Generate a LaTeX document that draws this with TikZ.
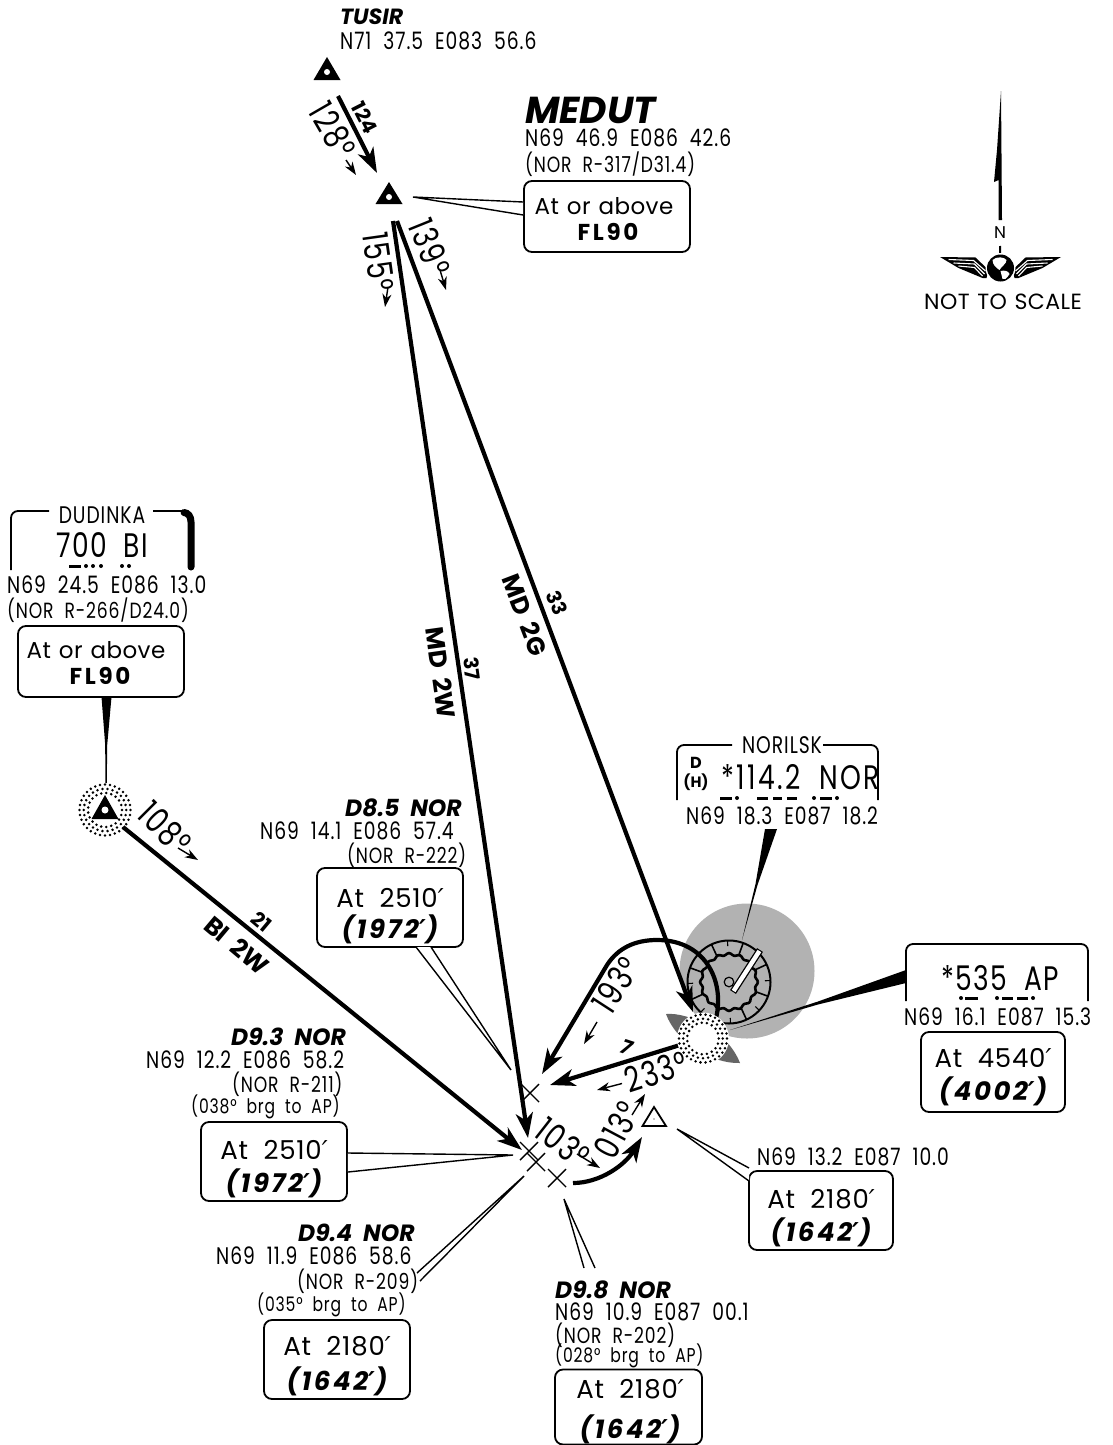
\documentclass[tikz,border=0pt]{standalone}
\usepackage{fontspec}
\usetikzlibrary{arrows.meta}
\setmainfont{Poppins}
\newfontfamily\nrw[FakeStretch=0.78,LetterSpace=4,WordSpace=2]{Poppins}
\newfontfamily\nrwb[FakeStretch=0.78,LetterSpace=7,WordSpace=2]{Poppins}
\newfontfamily\altf[LetterSpace=2,WordSpace=1.2]{Poppins}
\newfontfamily\altn[LetterSpace=3,WordSpace=2]{Poppins}
\newfontfamily\bif[LetterSpace=10,WordSpace=2]{Poppins}
\newfontfamily\flf[LetterSpace=12]{Poppins}
\newfontfamily\namef[WordSpace=2]{Poppins}
\newfontfamily\prf{DejaVu Sans}
\newcommand{\prm}{{\prf\itshape ′}}
\newcommand{\mdsh}[3]{\draw[line width=3] (#1,#3)--(#2,#3);}
\newcommand{\mdt}[2]{\fill (#1,#2) circle (2);}
\newcommand{\dotring}[3]{\foreach \i in {1,...,#3}{\fill (#1)++(\i*360/#3:#2) circle (1.4);}}
\tikzset{
  coordtx/.style={font=\fontsize{24}{24}\selectfont\nrw,anchor=west,inner sep=0pt},
  smalltx/.style={font=\fontsize{22}{22}\selectfont\nrw,anchor=west,inner sep=0pt},
  brgtx/.style={font=\fontsize{20}{20}\selectfont\nrw,anchor=west,inner sep=0pt},
  nametx/.style={font=\fontsize{23.5}{24}\selectfont\namef\bfseries\itshape,anchor=west,inner sep=0pt},
  bigtx/.style={font=\fontsize{35}{35}\selectfont\nrw,inner sep=0pt},
  freqtx/.style={font=\fontsize{34}{34}\selectfont\nrw,inner sep=0pt},
  stationtx/.style={font=\fontsize{24}{24}\selectfont\nrw,inner sep=0pt},
  rtelbl/.style={font=\fontsize{20}{20}\selectfont\bfseries,inner sep=0pt},
  rtename/.style={font=\fontsize{25}{25}\selectfont\namef\bfseries,inner sep=0pt},
  altbox/.style={draw,line width=1.8,rounded corners=8,fill=white,inner sep=0pt},
  alttx/.style={font=\fontsize{23}{23}\selectfont\altf,inner sep=0pt},
  altnum/.style={font=\fontsize{26}{26}\selectfont\altn,inner sep=0pt},
  altbi/.style={font=\fontsize{26}{26}\selectfont\bif\bfseries\itshape,inner sep=0pt},
  altfl/.style={font=\fontsize{23}{23}\selectfont\flf\bfseries,inner sep=0pt},
  route/.style={line width=4.2,-{Stealth[length=25,width=17,inset=7]}},
  hdg/.style={line width=1.4,-{Stealth[length=13,width=9,inset=4]}},
  leader/.style={line width=1.4,fill=white},
  wedge/.style={fill=black},
  xmark/.style={line width=1.4},
  chanbox/.style={line width=1.8,rounded corners=7},
}
\begin{document}
\begin{tikzpicture}[x=1pt,y=-1pt]
\useasboundingbox (0,0) rectangle (1112,1445);
\fill[white] (0,0) rectangle (1112,1445);

% named points
\coordinate (tus) at (327,72);
\coordinate (med) at (389,197);
\coordinate (dud) at (105,810);
\coordinate (nor) at (729,982);
\coordinate (ap) at (703,1038.5);
\coordinate (x1) at (530,1093);
\coordinate (x2) at (529,1151);
\coordinate (x3) at (536,1162);
\coordinate (x4) at (557,1178);
\coordinate (tri) at (654,1119);

% VOR rose
\fill[black!30] (747,971) circle (67.5);
\fill[black!60] (666,1014) .. controls (690,1012) and (728,1032) .. (740,1063) .. controls (712,1064) and (676,1042) .. (666,1014) -- cycle;
\draw[line width=2] (nor) circle (41.5);
\foreach \a in {-70,-115,-160,155,110,65,20,-25}{\draw[line width=1.6] (nor)++(\a:28)--++(\a:13.5);}
\foreach \a in {-92,-137,-182,133,88,43,-2,-47}{\draw[line width=1.1] (nor)++(\a:36)--++(\a:5.5);}
\draw[line width=2.6,shift={(nor)}] plot[samples=97,domain=0:360] ({(27.8+1.1*cos(16*\x))*cos(\x)},{(27.8+1.1*cos(16*\x))*sin(\x)});
\draw[line width=1.2] (nor) circle (4.8);
\draw[line width=7] (733,992)--(760,950);
\draw[white,line width=4.4] (733.6,991)--(759.4,951);

% Wedge leaders
\coordinate (norT) at (742,940);
\fill[wedge] (765,829)--(755.5,884)--(norT)--(757.5,885)--(777,829)--cycle;
\coordinate (apT) at (730,1030);
\fill[wedge] (906,970)--(818,1001.5)--(apT)--(818,1004.5)--(906,983)--cycle;
\coordinate (dudT) at (106,783);
\fill[wedge] (101.5,697)--(105.2,745)--(105.4,783)--(dudT)--(106.8,783)--(107.2,745)--(111.5,697)--cycle;

% Routes
\draw[route] (338,96)--(377,173);
\draw[route] (393,221)--(528,1138);
\draw[route] (397,221)--(693,1012);
\draw[route] (123,827)--(522,1150);
\draw[route] (680,1045)--(550,1085);
\draw[route] (573,1183) .. controls (600,1183) and (625,1165) .. (642,1137);
\draw[route] (715,1022) .. controls (726,985) and (708,940) .. (657,940) .. controls (635,940) and (618,948) .. (607,965) -- (542,1074);

% AP NDB symbol
\fill[white] (ap) circle (26);
\dotring{ap}{24}{30}
\dotring{ap}{19.8}{24}
\dotring{ap}{15.8}{19}
\fill[white] (ap) circle (14);

% Heading arrows
\draw[hdg] (346,160)--(356,175);
\draw[hdg] (388,287)--(385,307);
\draw[hdg] (440,270)--(446,290);
\draw[hdg] (178,848)--(198,860);
\draw[hdg] (597,1022)--(584,1044);
\draw[hdg] (622,1083.5)--(597,1090);
\draw[hdg] (632,1115)--(645,1094);
\draw[hdg] (577,1154)--(600,1168);

% Triangles
\fill (327,57)--(340.5,80)--(313.5,80)--cycle;
\fill[white] (tus) circle (3);
\fill (389,182)--(402.5,204)--(375.5,204)--cycle;
\fill[white] (med) circle (3);
\dotring{dud}{25.5}{32}
\dotring{dud}{21.2}{26}
\dotring{dud}{17}{21}
\fill (105,795)--(118.5,819)--(91.5,819)--cycle;
\fill[white] (dud) circle (3.5);
\draw[line width=1.8] (654,1107)--(666,1126)--(642.5,1126)--cycle;
\fill (tri) circle (0.7);

% Fixes
\foreach \p in {x1,x2,x3,x4}{\draw[xmark] (\p)++(-9,-9)--++(18,18) (\p)++(9,-9)--++(-18,18);}

% Waypoint labels
\node[nametx,font=\fontsize{22}{22}\selectfont\bfseries\itshape] (n1) at (340,17) {TUSIR};
\node[coordtx] (c1) at (340,41) {N71 37.5 E083 56.6};
\node[font=\fontsize{37.5}{38}\selectfont\bfseries\itshape,anchor=west,inner sep=0pt] (n2) at (525,110) {MEDUT};
\node[coordtx] (c2) at (525,138) {N69 46.9 E086 42.6};
\node[smalltx] (s2) at (525,164) {(NOR R-317/D31.4)};
\node[altbox,minimum width=166,minimum height=71] (b2) at (607,216.5) {};
\node[alttx] (b2a) at (604,206) {At or above};
\node[altfl] (b2b) at (608,232) {FL90};
\coordinate (medL) at (413,197);
\draw[leader] ([yshift=14.5pt]b2.west)--(medL)--([yshift=1.5pt]b2.west);

% Compass
\fill (1001,91)--(1002,220)--(998.5,220)--(998.7,180)--(994,182)--(997,150)--cycle;
\node[font=\fontsize{17}{17}\selectfont,inner sep=0pt] (nn) at (1000,233) {N};
\coordinate (cmp) at (1000.5,268);
\draw[line width=2] (1000,246)--(cmp);
\foreach \s in {1,-1}{
 \begin{scope}[shift={(cmp)},x=\s pt]
 \fill (-60.5,-11)--(-25,-10.5)--(-12,2)--(-14,10)--(-18,10)--(-42,0)--cycle;
 \draw[white,line width=1.1] (-52,-8.5)--(-27,-7.5)--(-15,3) (-47,-5)--(-26,-4)--(-16,6) (-42,-2)--(-26,-0.5)--(-18,8);
 \end{scope}}
\begin{scope}[shift={(cmp)}]
\fill[white] (0,0) circle (15);
\fill (0,0) circle (13.5);
\fill[white] (-8,-8) .. controls (-4,-12) and (4,-11) .. (6,-8) .. controls (6,-4) and (1,-2) .. (-1,2) .. controls (-4,0) and (-8,-3) .. (-8,-8) -- cycle;
\fill[white] (0,3) .. controls (4,2) and (8,3) .. (9,6) .. controls (6,11) and (4,12) .. (2,11) -- cycle;
\end{scope}
\node[font=\fontsize{22}{22}\selectfont\altf,inner sep=0pt] (nts) at (1003,302) {NOT TO SCALE};

% Route labels
\node[rtelbl,rotate=-63] (r124) at (365,118) {124};
\node[bigtx,rotate=-60] (h128) at (333,130) {128°};
\node[bigtx,rotate=-82] (h155) at (379,262) {155°};
\node[bigtx,rotate=-68] (h139) at (430,247) {139°};
\node[bigtx,rotate=-45] (h108) at (165,828) {108°};
\node[bigtx,rotate=57] (h193) at (616,985) {193°};
\node[bigtx,rotate=18] (h233) at (656,1071.5) {233°};
\node[bigtx,rotate=62] (h013) at (617,1130) {013°};
\node[bigtx,rotate=-38] (h103) at (563,1143) {103°};
\node[font=\fontsize{20}{20}\selectfont\bfseries\itshape,inner sep=0pt,rotate=-18] (r7) at (627,1047) {7};
\node[rtelbl,rotate=-69] (r33) at (557,603) {33};
\node[rtename,rotate=-69] (r2g) at (525,615) {MD 2G};
\node[rtelbl,rotate=-82] (r37) at (472,669) {37};
\node[rtename,rotate=-82] (r2w) at (441,673) {MD 2W};
\node[rtelbl,rotate=-40] (r21) at (262,922) {21};
\node[rtename,rotate=-40] (rbi) at (237,945) {BI 2W};

% DUDINKA
\draw[chanbox] (11,570)--(11,511)--(49,511);
\draw[line width=2] (153,511)--(182,511);
\draw[line width=7,line cap=round] (184,512.5) .. controls (188,513) and (191,516) .. (191,522) -- (191,567);
\node[stationtx] (d1) at (102,515) {DUDINKA};
\node[freqtx] (d2) at (102,545) {700 BI};
\mdsh{69}{81}{566}\mdt{86}{566}\mdt{93}{566}\mdt{101}{566}\mdt{122}{566}\mdt{129}{566}
\node[coordtx] (d3) at (7,585) {N69 24.5 E086 13.0};
\node[smalltx] (d4) at (7,610) {(NOR R-266/D24.0)};
\node[altbox,minimum width=166,minimum height=71] (db) at (101,661.5) {};
\node[alttx] (dba) at (96,650) {At or above};
\node[altfl] (dbb) at (100,676) {FL90};

% NORILSK
\draw[chanbox] (677,800)--(677,745)--(732,745);
\draw[chanbox] (823,745)--(878,745)--(878,800);
\node[stationtx] (nr1) at (782,745) {NORILSK};
\node[font=\fontsize{16}{16}\selectfont\bfseries,inner sep=0pt] (nrd) at (696,763) {D};
\node[font=\fontsize{15}{15}\selectfont\bfseries,inner sep=0pt] (nrh) at (696,782) {(H)};
\node[font=\fontsize{34}{34}\selectfont\nrwb,inner sep=0pt,anchor=east] (nr2) at (880,777) {*114.2 NOR};
\mdsh{720}{732}{798}\mdt{737}{798}\mdsh{757}{768}{798}\mdsh{773}{782}{798}\mdsh{787}{797}{798}\mdt{814}{798}\mdsh{820}{832}{798}\mdt{837}{798}
\node[coordtx] (nr3) at (686,816) {N69 18.3 E087 18.2};

% AP
\draw[chanbox] (906,1001)--(906,944)--(1088,944)--(1088,1001);
\node[freqtx] (ap1) at (1000,978) {*535 AP};
\mdt{961}{998}\mdsh{965}{978}{998}\mdt{997}{998}\mdsh{1002}{1013}{998}\mdsh{1017}{1028}{998}\mdt{1033}{998}
\node[coordtx] (ap2) at (904,1017) {N69 16.1 E087 15.3};
\node[altbox,minimum width=144,minimum height=80] (apb) at (993,1072) {};
\node[altnum] (apa) at (993,1058) {At 4540\prm};
\node[altbi] (apc) at (993,1091) {(4002\prm)};

% D8.5
\node[nametx] (e1) at (345,808) {D8.5 NOR};
\node[coordtx] (e2) at (260,831) {N69 14.1 E086 57.4};
\node[smalltx] (e3) at (347,855) {(NOR R-222)};
\node[altbox,minimum width=146,minimum height=79] (eb) at (390,907.5) {};
\node[altnum] (ea) at (390,898) {At 2510\prm};
\node[altbi] (ec) at (390,929) {(1972\prm)};
\coordinate (eT) at (511,1070);
\draw[leader] (416,947)--(eT)--(431,947);

% D9.3
\node[nametx] (f1) at (231,1037) {D9.3 NOR};
\node[coordtx] (f2) at (146,1060) {N69 12.2 E086 58.2};
\node[smalltx] (f3) at (232,1084) {(NOR R-211)};
\node[brgtx] (f4) at (191,1107) {(038° brg to AP)};
\node[altbox,minimum width=146,minimum height=79] (fb) at (274,1161.5) {};
\node[altnum] (fa) at (274,1150) {At 2510\prm};
\node[altbi] (fc) at (274,1183) {(1972\prm)};
\coordinate (fT) at (513,1155);
\draw[leader] ([yshift=8.5pt]fb.east)--(fT)--([yshift=-10.5pt]fb.east);

% D9.4
\node[nametx] (g1) at (298,1233) {D9.4 NOR};
\node[coordtx] (g2) at (216,1256) {N69 11.9 E086 58.6};
\node[smalltx] (g3) at (297,1281) {(NOR R-209)};
\node[brgtx] (g4) at (257,1305) {(035° brg to AP)};
\node[altbox,minimum width=146,minimum height=79] (gb) at (337,1359.5) {};
\node[altnum] (ga) at (337,1346) {At 2180\prm};
\node[altbi] (gc) at (337,1381) {(1642\prm)};
\coordinate (gT) at (524,1176);
\draw[leader] (417,1273)--(gT)--(420,1281);

% D9.8
\node[nametx] (h1) at (555,1290) {D9.8 NOR};
\node[coordtx] (h2) at (555,1312) {N69 10.9 E087 00.1};
\node[smalltx] (h3) at (555,1335) {(NOR R-202)};
\node[brgtx] (h4) at (555,1356) {(028° brg to AP)};
\node[altbox,minimum width=147,minimum height=75] (hb) at (628.5,1407) {};
\node[altnum] (ha) at (630,1389) {At 2180\prm};
\node[altbi] (hc) at (630,1429) {(1642\prm)};
\coordinate (hT) at (564,1199);
\draw[leader] (584,1268)--(hT)--(595,1268);

% Triangle fix
\node[coordtx] (t2) at (757,1157) {N69 13.2 E087 10.0};
\node[altbox,minimum width=144,minimum height=79] (tb) at (821,1210.5) {};
\node[altnum] (ta) at (821,1199) {At 2180\prm};
\node[altbi] (tc) at (821,1232) {(1642\prm)};
\coordinate (tT) at (677,1129);
\draw[leader] (749,1168)--(tT)--(749,1181);
\end{tikzpicture}
\end{document}
